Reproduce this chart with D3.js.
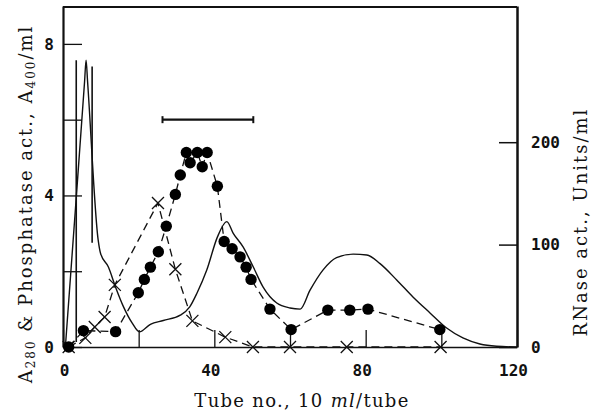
<!DOCTYPE html>
<html>
<head>
<meta charset="utf-8">
<script src="https://cdn.jsdelivr.net/npm/d3@7"></script>
<style>
  body { margin: 0; background: #fff; }
  svg { display: block; }
  .tick text { font-family: "DejaVu Sans Mono", monospace; font-weight: bold; font-size: 16px; fill: #111; }
  .title { font-family: "DejaVu Serif", serif; font-size: 18px; fill: #111; letter-spacing: 1.3px; }
</style>
</head>
<body>
<script>
// A280 absorbance (solid line), tube no. vs A
const a280Tube = [0.7, 3.4, 5.7, 6.1, 6.5, 9.3, 9.9, 12, 13.9, 16, 18.3, 20.2, 23.1, 26.5, 31, 33.5, 35.4, 38, 40.8, 43.3, 45, 47.6, 50.3, 52.9, 56.5, 60, 62.7, 65.3, 68.7, 72.3, 76.7, 80.3, 83.8, 88.2, 92.5, 97, 101.4, 105.7, 110.2, 114.6, 120];
const a280 = [0.1, 3.8, 7.0, 7.57, 7.0, 2.82, 2.48, 2.11, 1.58, 1.06, 0.63, 0.4, 0.6, 0.7, 0.84, 1.06, 1.42, 2.03, 2.9, 3.31, 3.0, 2.64, 2.11, 1.58, 1.16, 1.03, 1.0, 1.5, 2.03, 2.36, 2.45, 2.43, 2.2, 1.77, 1.32, 0.9, 0.5, 0.24, 0.08, 0.02, 0];

// RNase activity (filled circles), units/ml
const rnaseTube = [1.5, 5.4, 13.9, 19.9, 21.5, 23.1, 25.2, 27.3, 29.7, 31, 32.6, 33.6, 35.5, 36.8, 38.1, 40.8, 42.6, 44.7, 46.8, 48.4, 49.7, 54.7, 60.3, 70, 75.8, 80.6, 99.6];
const rnase = [0, 16, 15, 53, 66, 78, 93, 118, 149, 168, 190, 180, 190, 176, 190, 157, 103, 96, 88, 78, 66, 37, 17, 36, 36, 37, 17];

// phosphatase activity (crosses), A400/ml
const phosTube = [1.5, 5.9, 8.4, 11, 13.7, 25.1, 29.7, 34.2, 42.9, 50.2, 60, 75, 99.8];
const phos = [0, 0.24, 0.53, 0.79, 1.64, 3.8, 2.05, 0.69, 0.26, 0, 0, 0, 0];

// vertical marks near the first peak
const markTube = [3.5, 7.7];
const markLow = [0.13, 2.75];
const markHigh = [7.57, 7.4];

// pooled fractions bar
const poolRange = [26.3, 50.3];
const poolLevel = 6;

const leftTicks = [0, 2, 4, 6, 8];
const leftLabels = [0, 4, 8];
const rightTicks = [0, 100, 200];
const xTicks = [0, 20, 40, 60, 80, 100, 120];
const xLabels = [0, 40, 80, 120];

const width = 594,
  height = 416,
  margin = { left: 63, right: 77, top: 6, bottom: 69 };

const svg = d3.select("body")
  .append("svg")
  .attr("width", width)
  .attr("height", height);

const x = d3.scaleLinear().domain([0, 120]).range([margin.left, width - margin.right]);
const y = d3.scaleLinear().domain([0, 9]).range([height - margin.bottom, margin.top]);
const yR = d3.scaleLinear().domain([0, 333]).range([height - margin.bottom, margin.top]);

// frame
svg.append("line")
  .attr("x1", x(0)).attr("x2", x(120))
  .attr("y1", margin.top + 1).attr("y2", margin.top + 1)
  .attr("stroke", "#111").attr("stroke-width", 2);

const xAxis = svg.append("g")
  .attr("transform", `translate(0,${y(0)})`)
  .call(d3.axisBottom(x).tickValues(xTicks).tickSizeInner(-17).tickSizeOuter(0)
    .tickFormat(d => xLabels.includes(d) ? d : ""));
xAxis.select(".domain").attr("stroke", "#111").attr("stroke-width", 1.5);
xAxis.selectAll(".tick line").attr("stroke", "#111").attr("stroke-width", 1.3);
xAxis.selectAll(".tick text").attr("y", 18).attr("dx", d => d === 0 ? 1 : -4);

const yAxis = svg.append("g")
  .attr("transform", `translate(${x(0)},0)`)
  .call(d3.axisLeft(y).tickValues(leftTicks).tickSizeInner(-19).tickSizeOuter(0)
    .tickFormat(d => leftLabels.includes(d) ? d : ""));
yAxis.select(".domain").attr("stroke", "#111").attr("stroke-width", 2.2);
yAxis.selectAll(".tick line").attr("stroke", "#111").attr("stroke-width", 1.3);
yAxis.selectAll(".tick text").attr("x", -9);

const yAxisR = svg.append("g")
  .attr("transform", `translate(${x(120)},0)`)
  .call(d3.axisRight(yR).tickValues(rightTicks).tickSizeInner(-18).tickSizeOuter(0));
yAxisR.select(".domain").attr("stroke", "#111").attr("stroke-width", 2.5);
yAxisR.selectAll(".tick line").attr("stroke", "#111").attr("stroke-width", 1.5);
yAxisR.selectAll(".tick text").attr("x", 14);

// A280 solid curve
const line = d3.line().x(d => x(d[0])).y(d => d[1]);
const smooth = d3.line().x(d => x(d[0])).y(d => d[1]).curve(d3.curveMonotoneX);
svg.append("path")
  .attr("d", smooth(a280Tube.map((t, i) => [t, y(a280[i])])))
  .attr("fill", "none").attr("stroke", "#111").attr("stroke-width", 1.4);

// vertical marks
svg.selectAll(".mark")
  .data(markTube)
  .join("line")
  .attr("class", "mark")
  .attr("x1", d => x(d)).attr("x2", d => x(d))
  .attr("y1", (d, i) => y(markLow[i])).attr("y2", (d, i) => y(markHigh[i]))
  .attr("stroke", "#111").attr("stroke-width", 1.6);

// phosphatase dashed + crosses
svg.append("path")
  .attr("d", line(phosTube.map((t, i) => [t, y(phos[i])])))
  .attr("fill", "none").attr("stroke", "#111").attr("stroke-width", 1.3)
  .attr("stroke-dasharray", "8,5");

svg.selectAll(".cross")
  .data(phosTube)
  .join("path")
  .attr("class", "cross")
  .attr("transform", (d, i) => `translate(${x(d)},${y(phos[i])})`)
  .attr("d", "M-6,-6L6,6M-6,6L6,-6")
  .attr("stroke", "#111").attr("stroke-width", 1.3);

// RNase dashed + filled circles
svg.append("path")
  .attr("d", line(rnaseTube.map((t, i) => [t, yR(rnase[i])])))
  .attr("fill", "none").attr("stroke", "#111").attr("stroke-width", 1.3)
  .attr("stroke-dasharray", "8,5");

svg.selectAll(".dot")
  .data(rnaseTube)
  .join("circle")
  .attr("class", "dot")
  .attr("cx", d => x(d))
  .attr("cy", (d, i) => yR(rnase[i]))
  .attr("r", 5.7)
  .attr("fill", "#000");

// pooled bar
const bar = svg.append("g").attr("stroke", "#111");
bar.append("line")
  .attr("x1", x(poolRange[0])).attr("x2", x(poolRange[1]))
  .attr("y1", y(poolLevel)).attr("y2", y(poolLevel))
  .attr("stroke-width", 2.2);
bar.selectAll(".cap")
  .data(poolRange)
  .join("line")
  .attr("x1", d => x(d)).attr("x2", d => x(d))
  .attr("y1", y(poolLevel) - 3.5).attr("y2", y(poolLevel) + 3.5)
  .attr("stroke-width", 2);

// titles
svg.append("text")
  .attr("class", "title")
  .attr("x", 302).attr("y", 407)
  .attr("text-anchor", "middle")
  .html('Tube no., 10 <tspan font-style="italic">ml</tspan>/tube');

svg.append("text")
  .attr("class", "title")
  .attr("transform", "translate(32,204) rotate(-90)")
  .attr("text-anchor", "middle")
  .style("letter-spacing", "2px")
  .html('A<tspan font-size="12" dy="3">280</tspan><tspan dy="-3"> &amp; Phosphatase act., A</tspan><tspan font-size="12" dy="3">400</tspan><tspan dy="-3">/ml</tspan>');

svg.append("text")
  .attr("class", "title")
  .attr("transform", "translate(587,222) rotate(-90)")
  .attr("text-anchor", "middle")
  .style("letter-spacing", "2px")
  .text("RNase act., Units/ml");
</script>
</body>
</html>
